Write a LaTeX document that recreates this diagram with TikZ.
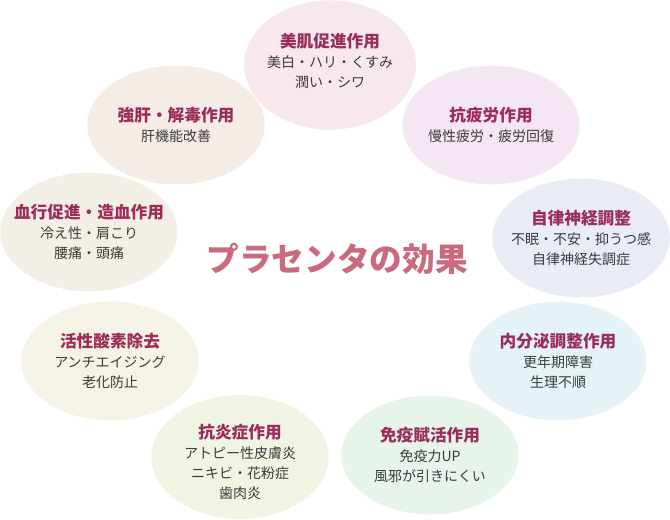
\documentclass[tikz,border=0pt]{standalone}
\usepackage{fontspec}
\setmainfont{Noto Sans CJK JP}
\usepackage{xcolor}
\usetikzlibrary{shapes,positioning}
\definecolor{titlered}{HTML}{9B2D5A}
\definecolor{headpink}{HTML}{C96A7D}
\definecolor{bodygray}{HTML}{3C3C3C}
\definecolor{skinbg}{HTML}{F8E8EC}
\definecolor{liverbg}{HTML}{F6ECE6}
\definecolor{fatiguebg}{HTML}{F4E6F2}
\definecolor{bloodbg}{HTML}{F4EFE6}
\definecolor{nervebg}{HTML}{E9EBF5}
\definecolor{oxygenbg}{HTML}{F4F3E5}
\definecolor{hormonebg}{HTML}{E5F3F6}
\definecolor{inflambg}{HTML}{F0F4E3}
\definecolor{immunebg}{HTML}{E6F4EA}
\newcommand{\ttl}[1]{{\fontsize{12.5}{15}\selectfont\bfseries\color{titlered}#1}}

\begin{document}
\begin{tikzpicture}[x=0.75pt,y=-0.75pt,
  blob/.style={ellipse,inner sep=0pt,minimum width=133pt,minimum height=89pt},
  effecttext/.style={align=center,text=bodygray,font=\fontsize{10.5}{15}\selectfont}]
\useasboundingbox (0,0) rectangle (670,520);
% ellipses
\node[blob,fill=skinbg,minimum width=129pt,minimum height=97pt] (skin) at (330,65) {};
\node[blob,fill=liverbg] (liver) at (176,125) {};
\node[blob,fill=fatiguebg] (fatigue) at (491,125) {};
\node[blob,fill=bloodbg] (blood) at (89,232) {};
\node[blob,fill=nervebg] (nerve) at (581,238) {};
\node[blob,fill=oxygenbg] (oxygen) at (110,361) {};
\node[blob,fill=hormonebg] (hormone) at (558,361) {};
\node[blob,fill=inflambg,minimum height=93pt] (inflam) at (240,457) {};
\node[blob,fill=immunebg] (immune) at (430,455) {};
% texts
\node[effecttext] (skintext) at ([yshift=3pt]skin) {\ttl{美肌促進作用}\\美白・ハリ・くすみ\\潤い・シワ};
\node[effecttext] (livertext) at (liver) {\ttl{強肝・解毒作用}\\肝機能改善};
\node[effecttext] (fatiguetext) at (fatigue) {\ttl{抗疲労作用}\\慢性疲労・疲労回復};
\node[effecttext] (bloodtext) at (blood) {\ttl{血行促進・造血作用}\\冷え性・肩こり\\腰痛・頭痛};
\node[effecttext] (nervetext) at (nerve) {\ttl{自律神経調整}\\不眠・不安・抑うつ感\\自律神経失調症};
\node[effecttext] (oxygentext) at (oxygen) {\ttl{活性酸素除去}\\アンチエイジング\\老化防止};
\node[effecttext] (hormonetext) at (hormone) {\ttl{内分泌調整作用}\\更年期障害\\生理不順};
\node[effecttext] (inflamtext) at ([yshift=-4pt]inflam) {\ttl{抗炎症作用}\\アトピー性皮膚炎\\ニキビ・花粉症\\歯肉炎};
\node[effecttext] (immunetext) at (immune) {\ttl{免疫賦活作用}\\免疫力UP\\風邪が引きにくい};
% center
\node[text=headpink,font=\fontsize{24.5}{28}\selectfont\bfseries] (head) at (337,259) {プラセンタの効果};
\end{tikzpicture}
\end{document}
